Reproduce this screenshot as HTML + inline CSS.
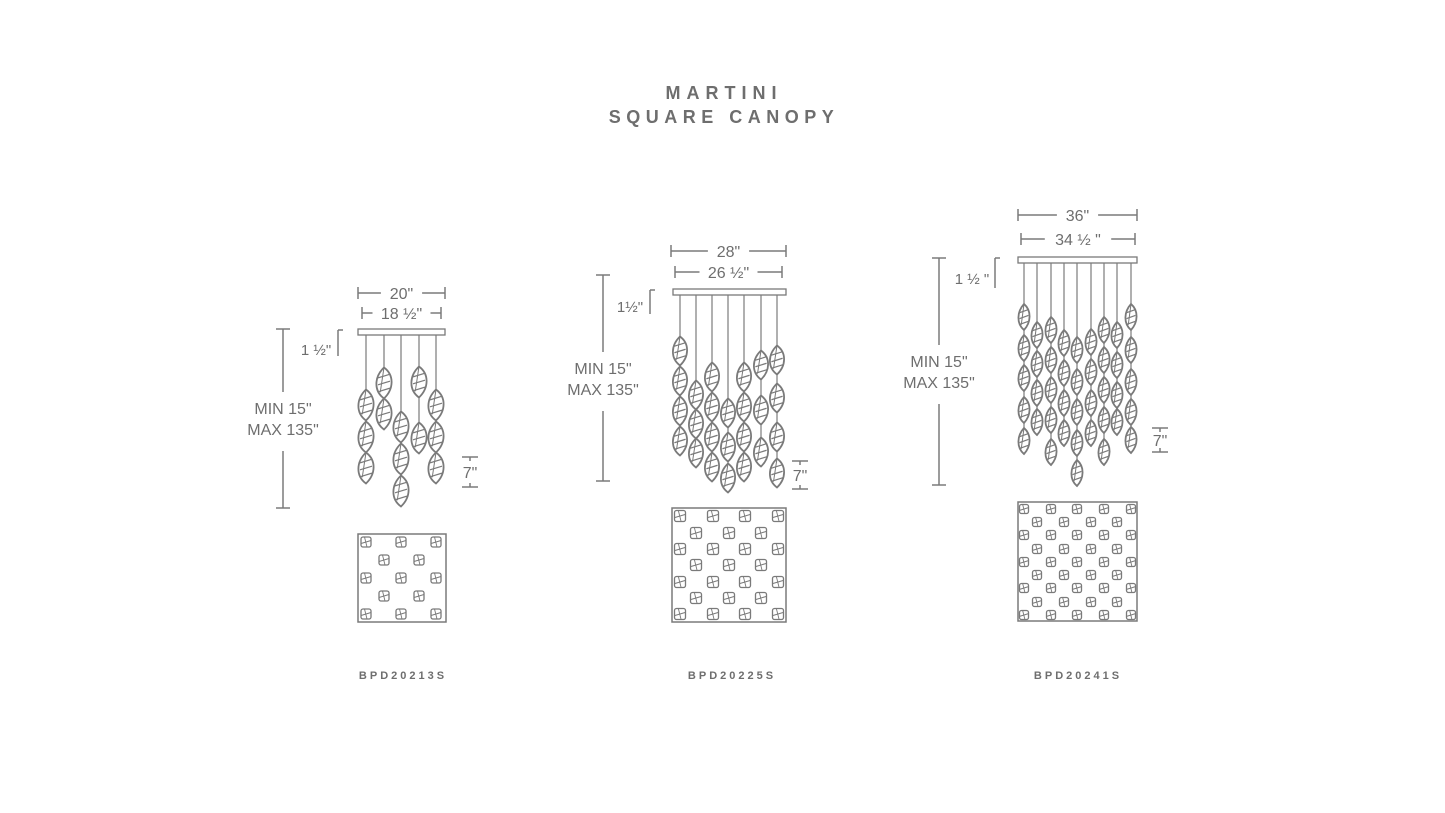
<!DOCTYPE html>
<html><head><meta charset="utf-8"><style>
html,body{margin:0;padding:0;background:#fff;}
svg{display:block;}
text{font-family:"Liberation Sans",sans-serif;fill:#6e6e6e;}
</style></head><body>
<svg id="s" width="1445" height="813" viewBox="0 0 1445 813" xmlns="http://www.w3.org/2000/svg">
<rect width="1445" height="813" fill="#fff"/>
<text x="724" y="99" text-anchor="middle" font-size="18" font-weight="bold" letter-spacing="6" fill="#777">MARTINI</text>
<text x="724" y="123" text-anchor="middle" font-size="18" font-weight="bold" letter-spacing="5.5" fill="#777">SQUARE CANOPY</text>
<text x="403" y="679" text-anchor="middle" font-size="11" font-weight="bold" letter-spacing="3" fill="#777">BPD20213S</text>
<text x="732" y="679" text-anchor="middle" font-size="11" font-weight="bold" letter-spacing="3" fill="#777">BPD20225S</text>
<text x="1078" y="679" text-anchor="middle" font-size="11" font-weight="bold" letter-spacing="3" fill="#777">BPD20241S</text>
<g id="g" stroke="#7a7a7a" fill="none" stroke-width="1.5"></g>
</svg>
<script>
const g=document.getElementById('g');
let h='';
function L(x1,y1,x2,y2,w){h+=`<line x1="${x1}" y1="${y1}" x2="${x2}" y2="${y2}"${w?` stroke-width="${w}"`:''}/>`;}
function T(x,y,s,fs,anchor){h+=`<text x="${x}" y="${y}" font-size="${fs||16}" text-anchor="${anchor||'middle'}" stroke="none">${s}</text>`;}
function crystal(cx,cy,w,ht){const a=w/2,b=ht/2;
 h+=`<path d="M${cx} ${cy-b} C${cx+a*1.4} ${cy-b*0.5} ${cx+a*1.3} ${cy+b*0.4} ${cx} ${cy+b} C${cx-a*1.4} ${cy+b*0.5} ${cx-a*1.3} ${cy-b*0.4} ${cx} ${cy-b}Z" stroke-width="1.8"/>`;
 for(let k=-1;k<=1;k++){const yy=cy+k*b*0.45;L(cx-a*0.8,yy+b*0.12,cx+a*0.8,yy-b*0.12,1.2);}
 L(cx,cy-b,cx-a*0.5,cy+b*0.6,1);}
function hdim(x1,x2,y,label,fs){L(x1,y-6,x1,y+6);L(x2,y-6,x2,y+6);const m=(x1+x2)/2,hw=label.length*4.2+8;L(x1,y,m-hw,y);L(m+hw,y,x2,y);T(m,y+6,label,fs||16);}
function pend(cols,ytop,canopyX1,canopyX2,w,ht){
 h+=`<rect x="${canopyX1}" y="${ytop-7}" width="${canopyX2-canopyX1}" height="6" stroke-width="1.3"/>`;
 cols.forEach(c=>{const x=c[0],cs=c[1];L(x,ytop-1,x,cs[0]-ht/2,1.2);for(let i=0;i<cs.length;i++){if(i>0)L(x,cs[i-1]+ht/2,x,cs[i]-ht/2,1.2);crystal(x,cs[i],w,ht);}});}
function plan(x,y,s,rows,odd,even,sz){h+=`<rect x="${x}" y="${y}" width="${s}" height="${s}" stroke-width="1.5"/>`;
 rows.forEach((ry,i)=>{(i%2?even:odd).forEach(cx=>{const q=sz/2;h+=`<rect x="${cx-q}" y="${ry-q}" width="${sz}" height="${sz}" rx="2" stroke-width="1.3"/>`;L(cx-q,ry+q*0.3,cx+q,ry-q*0.3,1);L(cx-q*0.3,ry-q,cx+q*0.2,ry+q,0.9);});});}
function bracket(x,y1,y2){L(x,y1,x,y2);L(x,y1,x+5,y1);}
function seven(x,y1,y2){L(x-8,y1,x+8,y1);L(x-8,y2,x+8,y2);L(x,y1,x,y1+4);L(x,y2-4,x,y2);T(x,(y1+y2)/2+6,'7"',16);}
function minmax(x,y1,y2,ty){L(x-7,y1,x+7,y1);L(x-7,y2,x+7,y2);L(x,y1,x,ty-22);L(x,ty+37,x,y2);T(x,ty,'MIN 15"',16);T(x,ty+21,'MAX 135"',16);}

hdim(358,445,293,'20"');hdim(362,441,313,'18 ½"');
pend([[366,[405,437,468]],[384,[383,414]],[401,[427,459,491]],[419,[382,438]],[436,[405,437,468]]],336,358,445,15,31);
minmax(283,329,508,414);bracket(338,330,356);T(316,355,'1 ½"',15);seven(470,457,487);
plan(358,534,88,[542,560,578,596,614],[366,401,436],[384,419],10);

hdim(671,786,251,'28"');hdim(675,782,272,'26 ½"');
pend([[680,[351,381,411,441]],[696,[395,424,453]],[712,[377,407,437,467]],[728,[413,447,478]],[744,[377,407,437,467]],[761,[365,410,452]],[777,[360,398,437,473]]],296,673,786,14,29);
minmax(603,275,481,374);bracket(650,290,314);T(630,312,'1½"',15);seven(800,461,489);
plan(672,508,114,[516,533,549,565,582,598,614],[680,713,745,778],[696,729,761],11);

hdim(1018,1137,215,'36"');hdim(1021,1135,239,'34 ½ "');
pend([[1024,[317,348,378,410,441]],[1037,[335,364,393,422]],[1051,[330,360,390,420,452]],[1064,[343,373,403,433]],[1077,[350,382,412,443,473]],[1091,[342,372,403,433]],[1104,[330,360,390,420,452]],[1117,[335,365,395,422]],[1131,[317,350,382,412,440]]],264,1018,1137,11,26);
minmax(939,258,485,367);bracket(995,258,288);T(972,284,'1 ½ "',15);seven(1160,428,452);
plan(1018,502,119,[509,522,535,549,562,575,588,602,615],[1024,1051,1077,1104,1131],[1037,1064,1091,1117],9);

g.innerHTML=h;
</script>
</body></html>
